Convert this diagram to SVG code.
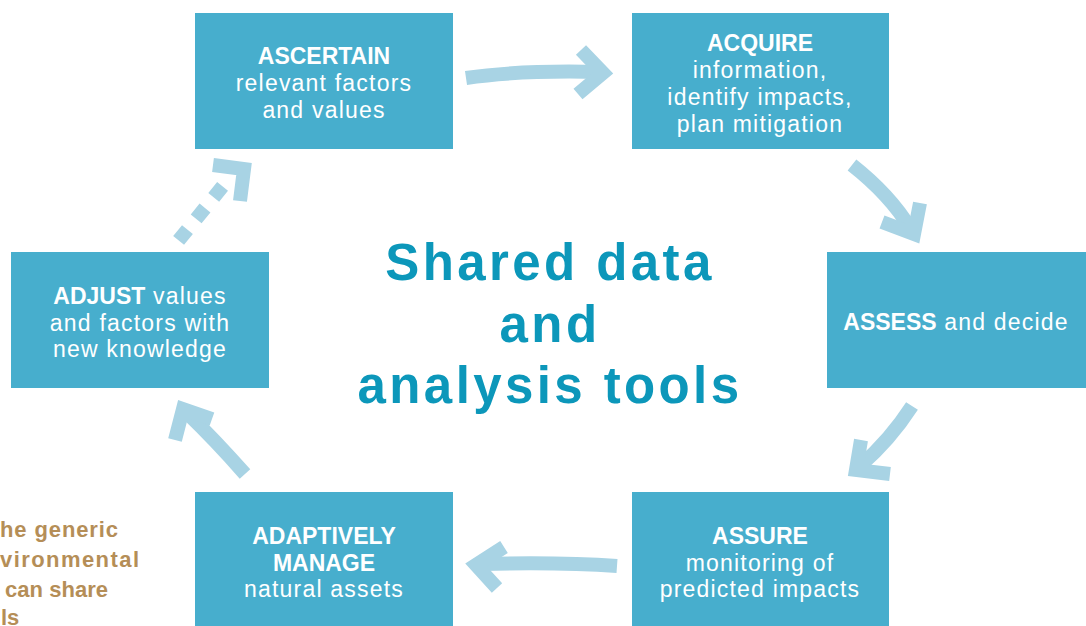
<svg xmlns="http://www.w3.org/2000/svg" width="1086" height="626" viewBox="0 0 1086 626">
<style>
.box{fill:#47AECD}
.t{font-family:"Liberation Sans",Arial,sans-serif;font-size:23px;fill:#fff;text-anchor:middle}
.b{font-weight:700}
.r{letter-spacing:1.2px}
.arr{fill:none;stroke:#A8D3E4;stroke-width:14;stroke-linecap:butt;stroke-linejoin:miter;stroke-miterlimit:10}
.center{font-family:"Liberation Sans",Arial,sans-serif;font-size:51px;font-weight:700;fill:#0C97BA;text-anchor:middle;letter-spacing:3.4px}
.side{font-family:"Liberation Sans",Arial,sans-serif;font-size:22px;font-weight:700;fill:#B58E57}
</style>
<rect width="1086" height="626" fill="#fff"/>
<g id="connectors">
<path class="arr" d="M466,78 Q520,70 600,72"/>
<path class="arr" d="M581,50 L603,73 L578,94"/>
<path class="arr" d="M852,165 Q890,195 910,228"/>
<path class="arr" d="M920,203 L914,234 L882,222"/>
<path class="arr" d="M912,406 Q890,440 860,466"/>
<path class="arr" d="M861,440 L856,470 L890,474"/>
<path class="arr" d="M617,566 Q560,562 480,564"/>
<path class="arr" d="M504,547 L476,565 L497,588"/>
<path class="arr" d="M245,474 Q215,440 188,414"/>
<path class="arr" d="M212,419 L183,409 L175,440"/>
<path class="arr" d="M178.6,240.4 L222.6,186.4" stroke-dasharray="14 13.8"/>
<path class="arr" d="M213,165 L244,169 L240,201"/>
</g>
<g id="ascertain">
<rect class="box" x="195" y="13" width="258" height="136"/>
<text class="t" x="324" y="64"><tspan class="b">ASCERTAIN</tspan><tspan class="r" x="324" y="91">relevant factors</tspan><tspan class="r" x="324" y="118">and values</tspan></text>
</g>
<g id="acquire">
<rect class="box" x="632" y="13" width="257" height="136"/>
<text class="t" x="760" y="51"><tspan class="b">ACQUIRE</tspan><tspan class="r" x="760" y="78">information,</tspan><tspan class="r" x="760" y="105">identify impacts,</tspan><tspan class="r" x="760" y="132">plan mitigation</tspan></text>
</g>
<g id="assess">
<rect class="box" x="827" y="252" width="259" height="136"/>
<text class="t" x="956" y="330"><tspan class="b">ASSESS</tspan><tspan class="r"> and decide</tspan></text>
</g>
<g id="assure">
<rect class="box" x="632" y="492" width="257" height="134"/>
<text class="t" x="760" y="544"><tspan class="b">ASSURE</tspan><tspan class="r" x="760" y="571">monitoring of</tspan><tspan class="r" x="760" y="597">predicted impacts</tspan></text>
</g>
<g id="adaptively">
<rect class="box" x="195" y="492" width="258" height="134"/>
<text class="t" x="324" y="544"><tspan class="b">ADAPTIVELY</tspan><tspan class="b" x="324" y="571">MANAGE</tspan><tspan class="r" x="324" y="597">natural assets</tspan></text>
</g>
<g id="adjust">
<rect class="box" x="11" y="252" width="258" height="136"/>
<text class="t" x="140" y="304"><tspan class="b">ADJUST</tspan><tspan class="r"> values</tspan><tspan class="r" x="140" y="331">and factors with</tspan><tspan class="r" x="140" y="357">new knowledge</tspan></text>
</g>
<g id="center">
<text class="center" x="550" y="280">Shared data</text>
<text class="center" x="550" y="342">and</text>
<text class="center" x="550" y="403">analysis tools</text>
</g>
<g id="side-text">
<text class="side" x="0" y="537" textLength="118" lengthAdjust="spacing">he generic</text>
<text class="side" x="0" y="567" textLength="139" lengthAdjust="spacing">vironmental</text>
<text class="side" x="5" y="597" textLength="103" lengthAdjust="spacing">can share</text>
<text class="side" x="1" y="625">ls</text>
</g>
</svg>
